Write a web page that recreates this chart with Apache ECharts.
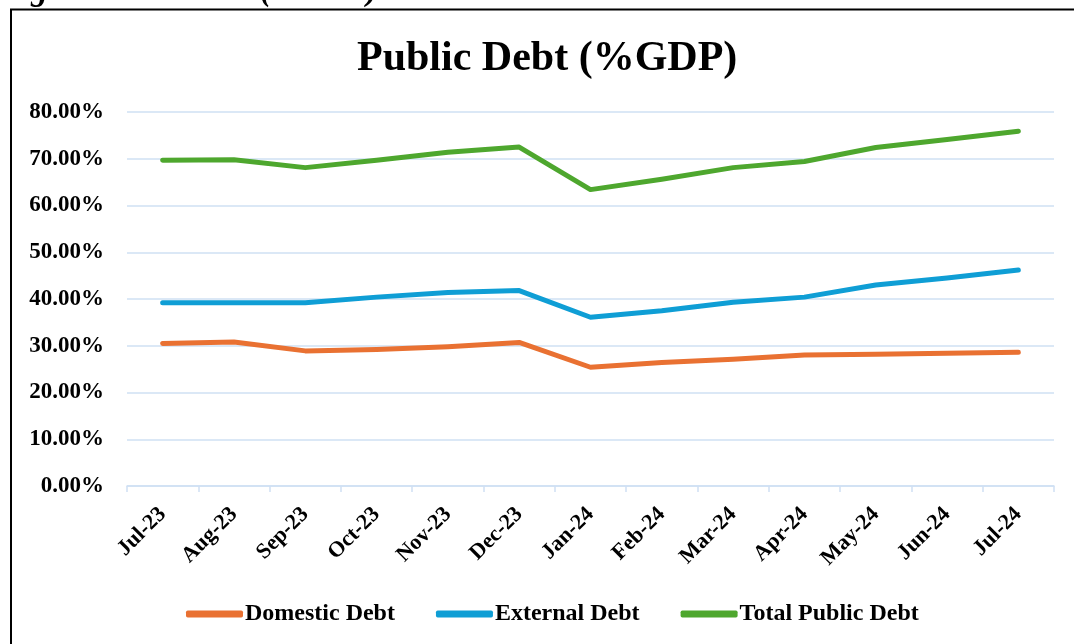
<!DOCTYPE html>
<html>
<head>
<meta charset="utf-8">
<script src="https://cdn.jsdelivr.net/npm/echarts@6/dist/echarts.min.js"></script>
<style>
    html, body { margin: 0; padding: 0; background: #fff; }
    #chart { width: 1074px; height: 644px; }
</style>
</head>
<body>
<div id="chart"></div>
<script>
    "use strict";

    // data (% of GDP)
    var months = ["Jul-23", "Aug-23", "Sep-23", "Oct-23", "Nov-23", "Dec-23",
        "Jan-24", "Feb-24", "Mar-24", "Apr-24", "May-24", "Jun-24", "Jul-24"];
    var domesticDebt = [30.5, 30.8, 28.9, 29.2, 29.8, 30.7, 25.4, 26.4, 27.1, 28.0, 28.2, 28.4, 28.6];
    var externalDebt = [39.2, 39.2, 39.2, 40.4, 41.4, 41.8, 36.1, 37.5, 39.3, 40.4, 43.0, 44.5, 46.2];
    var totalDebt = [69.7, 69.8, 68.1, 69.7, 71.4, 72.5, 63.4, 65.6, 68.1, 69.4, 72.4, 74.1, 75.9];
    var yTicks = [0, 10, 20, 30, 40, 50, 60, 70, 80];

    var serif = "'Liberation Serif', 'Times New Roman', serif";
    var gridBlue = "#cfe0f3";

    var chart = echarts.init(document.getElementById('chart'));

    function makeSeries(name, data, color) {
        return {
            name: name,
            type: 'line',
            data: data,
            symbol: 'none',
            lineStyle: { width: 5, color: color, cap: 'round', join: 'round' },
            itemStyle: { color: color }
        };
    }

    var option = {
        backgroundColor: '#fff',
        animation: false,
        title: {
            text: 'Public Debt (%GDP)',
            left: 352,
            top: 33,
            textStyle: { fontFamily: serif, fontWeight: 'bold', fontSize: 42, color: '#000' }
        },
        graphic: [
            {
                type: 'rect',
                shape: { x: 11, y: 9.5, width: 1200, height: 800 },
                style: { fill: 'none', stroke: '#000', lineWidth: 2 }
            },
            {
                type: 'text',
                x: 0,
                y: 8,
                style: {
                    text: 'Fig 7: Public Debt (%GDP)',
                    font: 'italic bold 33px ' + serif,
                    fill: '#000',
                    verticalAlign: 'bottom'
                }
            }
        ],
        legend: {
            bottom: 13,
            left: 181,
            icon: 'roundRect',
            itemWidth: 57,
            itemHeight: 7,
            itemGap: 41,
            textStyle: { fontFamily: serif, fontWeight: 'bold', fontSize: 24, color: '#000', padding: [0, 0, 0, -3] },
            data: ['Domestic Debt', 'External Debt', 'Total Public Debt']
        },
        grid: { left: 127, right: 20, top: 112, bottom: 158 },
        xAxis: {
            type: 'category',
            data: months,
            boundaryGap: true,
            axisLine: { lineStyle: { color: gridBlue, width: 1.5 } },
            axisTick: { show: true, length: 6, lineStyle: { color: gridBlue, width: 1.5 } },
            axisLabel: {
                rotate: 45,
                margin: 25,
                interval: 0,
                fontFamily: serif,
                fontWeight: 'bold',
                fontSize: 22,
                color: '#000'
            }
        },
        yAxis: {
            type: 'value',
            min: yTicks[0],
            max: yTicks[yTicks.length - 1],
            interval: 10,
            axisLine: { show: false },
            axisTick: { show: false },
            splitLine: { lineStyle: { color: gridBlue, width: 1.5 } },
            axisLabel: {
                margin: 23,
                fontFamily: serif,
                fontWeight: 'bold',
                fontSize: 23,
                color: '#000',
                formatter: function (v) { return v.toFixed(2) + '%'; }
            }
        },
        series: [
            makeSeries('Domestic Debt', domesticDebt, '#e97132'),
            makeSeries('External Debt', externalDebt, '#0f9ed5'),
            makeSeries('Total Public Debt', totalDebt, '#4ea72e')
        ]
    };

    chart.setOption(option);
</script>
</body>
</html>
